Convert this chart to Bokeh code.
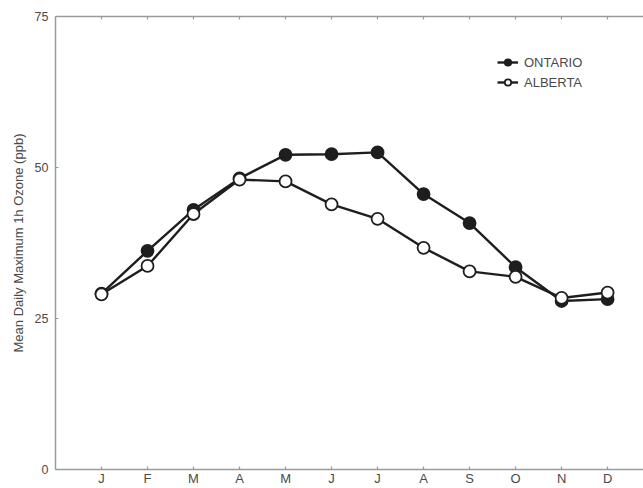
from bokeh.plotting import figure
from bokeh.models import LinearAxis, FixedTicker, Range1d, Legend, LegendItem
from bokeh.embed import file_html
from bokeh.resources import INLINE

# Monthly mean daily maximum 1-h ozone (ppb)
months = ["J", "F", "M", "A", "M", "J", "J", "A", "S", "O", "N", "D"]
ontario = [29.1, 36.2, 43.0, 48.2, 52.1, 52.2, 52.5, 45.6, 40.8, 33.5, 27.9, 28.2]
alberta = [29.0, 33.7, 42.3, 48.0, 47.7, 43.9, 41.5, 36.7, 32.8, 31.9, 28.4, 29.3]
y_ticks = [0, 25, 50, 75]

x = list(range(len(months)))

FONT = "Liberation Sans"
AXIS_GREY = "#9a9a9a"
TEXT_GREY = "#4a4a4a"
INK = "#1e1e1e"

p = figure(
    width=643, height=488,
    x_range=Range1d(-1.0, 11.78), y_range=Range1d(0, 75),
    output_backend="svg", toolbar_location=None,
    x_axis_location=None, y_axis_location=None,
    min_border_left=55, min_border_right=0, min_border_top=16, min_border_bottom=0,
)
p.outline_line_color = None
p.xgrid.visible = False
p.ygrid.visible = False
p.background_fill_color = "white"
p.border_fill_color = "white"


def style_axis(ax):
    ax.axis_line_color = AXIS_GREY
    ax.axis_line_width = 1.5
    ax.major_tick_line_color = AXIS_GREY
    ax.major_tick_line_width = 1.2
    ax.major_tick_in = 3
    ax.major_tick_out = 0
    ax.minor_tick_line_color = None
    ax.major_label_text_font = FONT
    ax.major_label_text_color = TEXT_GREY
    ax.major_label_text_font_size = "12.5px"


month_ticker = FixedTicker(ticks=x)

xb = LinearAxis(ticker=month_ticker)
style_axis(xb)
xb.major_label_overrides = {i: m for i, m in enumerate(months)}
xb.major_label_standoff = 1
xb.major_label_text_font_size = "13px"
xb.major_label_text_line_height = 1.0
p.add_layout(xb, "below")

# top edge of the frame, ticks only
xt = LinearAxis(ticker=month_ticker)
style_axis(xt)
xt.major_label_overrides = {i: "" for i in x}
xt.major_label_standoff = 0
p.add_layout(xt, "above")

yl = LinearAxis(ticker=FixedTicker(ticks=y_ticks))
style_axis(yl)
yl.major_label_standoff = 7
yl.axis_label = "Mean Daily Maximum 1h Ozone (ppb)"
yl.axis_label_text_font = FONT
yl.axis_label_text_font_style = "normal"
yl.axis_label_text_font_size = "13px"
yl.axis_label_text_color = TEXT_GREY
yl.axis_label_standoff = 6
p.add_layout(yl, "left")

# Ontario: filled markers
on_line = p.line(x, ontario, line_color=INK, line_width=2.4)
on_pts = p.scatter(x, ontario, size=12, fill_color=INK, line_color=INK, line_width=1.8)

# Alberta: open markers, drawn on top
ab_line = p.line(x, alberta, line_color=INK, line_width=2.4)
ab_pts = p.scatter(x, alberta, size=12, fill_color="white", line_color=INK, line_width=1.8)

legend = Legend(
    items=[
        LegendItem(label="ONTARIO", renderers=[on_line, on_pts]),
        LegendItem(label="ALBERTA", renderers=[ab_line, ab_pts]),
    ],
    location=(442, 379),
    orientation="vertical",
    padding=0, margin=0, spacing=4,
    glyph_width=21, glyph_height=16, label_standoff=6,
    label_text_font=FONT, label_text_font_size="13px", label_text_color=TEXT_GREY,
    border_line_color=None, background_fill_alpha=0,
)
p.add_layout(legend, "center")

open("out.html", "w").write(file_html(p, INLINE))
